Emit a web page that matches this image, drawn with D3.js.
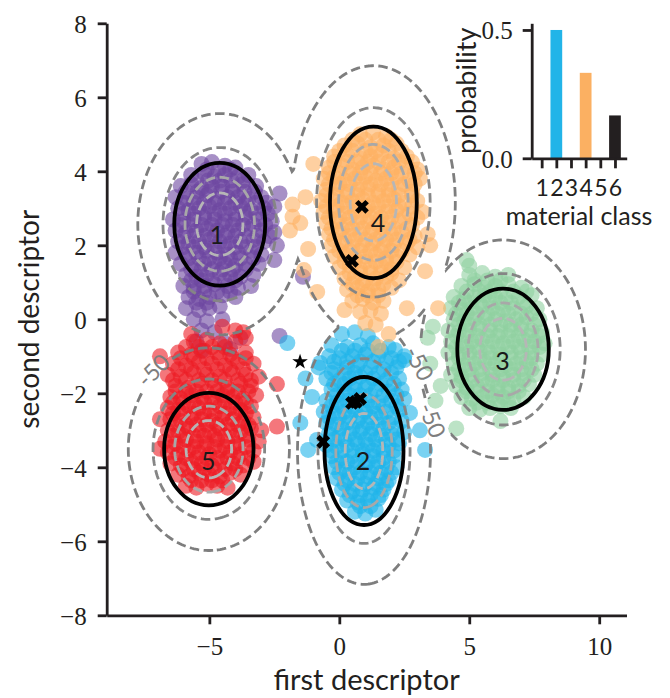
<!DOCTYPE html>
<html><head><meta charset="utf-8">
<script src="https://cdn.jsdelivr.net/npm/d3@7"></script>
<style>body{margin:0;background:#fff}</style>
</head><body><svg id="c" width="670" height="698"></svg>
<script>
// ---------------- data ----------------
const classIds = [1, 2, 3, 4, 5];
const classColors = ["#6c46a0", "#1fb4e9", "#8fd0a0", "#fdb062", "#ec1c24"];
const centers = [[-4.6, 2.57], [0.95, -3.56], [6.3, -0.81], [1.31, 3.16], [-5.02, -3.51]];
const radii = [[1.75, 1.66], [1.52, 2.0], [1.76, 1.64], [1.67, 2.05], [1.72, 1.52]];
const contourRadii = [[1.75, 1.66], [1.42, 2.0], [1.76, 1.64], [1.75, 2.05], [1.72, 1.52]];
const labelPos = [[-4.72, 2.31], [0.91, -3.8], [6.28, -1.1], [1.49, 2.64], [-5.04, -3.8]];
const contourLevels = [-50, -24, -9, -4];
const contourColors = ["#7e7e7e", "#858585", "#a8a8a8", "#b6b6b6"];
const contourScale = 15.4;
const contourLabelPos = [[-7.17, -1.37], [3.1, -1.18], [3.6, -2.72]];
const contourLabelAngles = [-45, 62, 68];
const contourLabelText = "-50";
const crossPts = [[0.87, 3.04], [0.49, 1.58], [0.64, -2.23], [0.8, -2.15], [0.49, -2.26], [-0.62, -3.31]];
const starPts = [[-1.51, -1.15]];
const xTicks = [-5, 0, 5, 10];
const yTicks = [-8, -6, -4, -2, 0, 2, 4, 6, 8];
const barClasses = [1, 2, 3, 4, 5, 6];
const barProbs = [0, 0.5, 0, 0.333, 0, 0.167];
const barColors = ["#6c46a0", "#22b4e8", "#8fd0a0", "#fbb062", "#ec1c24", "#231f20"];
const barTicks = [0, 0.5];

const pts1 = [[-5.3,4.2],[-4.9,4.25],[-4.4,4.15],[-4.0,4.1],
[-5.7,3.9],[-5.2,3.95],[-4.8,3.85],[-4.4,3.9],[-3.9,3.85],[-3.5,3.9],
[-6.1,3.6],[-5.7,3.65],[-5.3,3.55],[-4.9,3.6],[-4.5,3.6],[-4.1,3.55],[-3.7,3.65],[-3.2,3.6],
[-6.3,3.3],[-5.9,3.25],[-5.5,3.3],[-5.1,3.35],[-4.7,3.25],[-4.3,3.3],[-3.9,3.3],[-3.5,3.25],[-3.0,3.3],
[-6.2,3.0],[-5.8,2.95],[-5.4,3.0],[-5.0,3.05],[-4.6,2.95],[-4.2,3.0],[-3.8,3.05],[-3.4,2.95],[-2.9,3.0],[-2.5,3.05],
[-6.4,2.7],[-6.0,2.65],[-5.6,2.7],[-5.2,2.75],[-4.8,2.7],[-4.4,2.65],[-4.0,2.7],[-3.6,2.75],[-3.1,2.7],[-2.6,2.65],
[-6.3,2.4],[-5.9,2.35],[-5.5,2.4],[-5.1,2.45],[-4.7,2.4],[-4.3,2.35],[-3.9,2.4],[-3.5,2.45],[-3.0,2.4],[-2.5,2.35],
[-6.2,2.1],[-5.8,2.05],[-5.4,2.1],[-5.0,2.15],[-4.6,2.1],[-4.2,2.05],[-3.8,2.1],[-3.3,2.15],[-2.9,2.1],[-2.4,2.0],
[-6.3,1.8],[-5.9,1.75],[-5.5,1.8],[-5.1,1.85],[-4.7,1.8],[-4.3,1.75],[-3.9,1.8],[-3.4,1.85],[-3.0,1.75],
[-6.1,1.5],[-5.6,1.45],[-5.2,1.5],[-4.8,1.55],[-4.4,1.5],[-4.0,1.45],[-3.6,1.5],[-3.1,1.5],
[-5.9,1.2],[-5.5,1.15],[-5.1,1.2],[-4.6,1.25],[-4.2,1.2],[-3.8,1.15],[-3.3,1.2],
[-6.0,0.9],[-5.6,0.85],[-5.2,0.9],[-4.8,0.95],[-4.3,0.9],[-3.9,0.85],[-3.4,0.9],
[-5.8,0.6],[-5.4,0.55],[-5.0,0.6],[-4.5,0.65],[-4.0,0.6],
[-5.9,0.3],[-5.4,0.25],[-5.0,0.3],[-4.6,0.35],
[-5.6,0.0],[-5.1,-0.05],[-4.5,0.0],
[-5.3,-0.3],[-4.8,-0.35],
[-5.5,-0.6],[-4.4,-0.65],[-4.2,-0.8],[-5.3,-0.85],[-3.8,-0.5],[-2.3,-0.45],[-1.4,1.15],[-2.5,1.6],[-2.3,3.4]];
const pts1Core = [[-5.1,4.05],[-4.65,4.05],[-4.2,4.05],
[-5.5,3.75],[-5.05,3.75],[-4.6,3.75],[-4.15,3.75],[-3.7,3.75],
[-5.9,3.45],[-5.45,3.45],[-5.0,3.45],[-4.55,3.45],[-4.1,3.45],[-3.65,3.45],[-3.25,3.45],
[-6.0,3.15],[-5.6,3.15],[-5.2,3.15],[-4.8,3.15],[-4.4,3.15],[-4.0,3.15],[-3.6,3.15],[-3.2,3.15],[-2.8,3.15],
[-6.0,2.85],[-5.6,2.85],[-5.2,2.85],[-4.8,2.85],[-4.4,2.85],[-4.0,2.85],[-3.6,2.85],[-3.2,2.85],[-2.75,2.85],
[-6.1,2.55],[-5.7,2.55],[-5.3,2.55],[-4.9,2.55],[-4.5,2.55],[-4.1,2.55],[-3.7,2.55],[-3.3,2.55],[-2.85,2.55],
[-6.0,2.25],[-5.6,2.25],[-5.2,2.25],[-4.8,2.25],[-4.4,2.25],[-4.0,2.25],[-3.6,2.25],[-3.15,2.25],[-2.7,2.25],
[-6.0,1.95],[-5.6,1.95],[-5.2,1.95],[-4.8,1.95],[-4.4,1.95],[-4.0,1.95],[-3.6,1.95],[-3.2,1.95],
[-5.8,1.65],[-5.4,1.65],[-5.0,1.65],[-4.6,1.65],[-4.2,1.65],[-3.8,1.65],[-3.3,1.65],
[-5.7,1.35],[-5.3,1.35],[-4.9,1.35],[-4.5,1.35],[-4.1,1.35],[-3.6,1.35],
[-5.7,1.05],[-5.3,1.05],[-4.9,1.05],[-4.4,1.05],[-4.0,1.05],
[-5.6,0.75],[-5.2,0.75],[-4.7,0.75],[-4.2,0.75],
[-5.5,0.45],[-5.1,0.45]];

const pts2 = [[0.1,-0.4],[0.6,-0.35],[1.1,-0.45],
[-0.3,-0.7],[0.3,-0.75],[0.8,-0.7],[1.3,-0.65],[1.9,-0.75],
[-0.4,-1.0],[0.0,-1.05],[0.5,-1.0],[1.0,-0.95],[1.5,-1.0],[2.0,-1.05],[2.5,-1.0],
[-0.8,-1.3],[-0.2,-1.35],[0.3,-1.3],[0.7,-1.25],[1.2,-1.3],[1.7,-1.35],[2.2,-1.3],
[-0.5,-1.6],[0.0,-1.65],[0.4,-1.6],[0.8,-1.55],[1.3,-1.6],[1.8,-1.65],[2.3,-1.6],
[-0.3,-1.9],[0.2,-1.95],[0.6,-1.9],[1.0,-1.85],[1.4,-1.9],[1.9,-1.95],[2.4,-1.9],
[-0.5,-2.2],[-0.1,-2.25],[0.3,-2.2],[0.7,-2.15],[1.1,-2.2],[1.5,-2.25],[2.0,-2.2],[2.5,-2.15],
[-0.6,-2.5],[-0.2,-2.55],[0.2,-2.5],[0.6,-2.45],[1.0,-2.5],[1.4,-2.55],[1.8,-2.5],[2.3,-2.45],
[-0.5,-2.8],[-0.1,-2.85],[0.3,-2.8],[0.7,-2.75],[1.1,-2.8],[1.5,-2.85],[1.9,-2.8],[2.4,-2.75],
[-0.4,-3.1],[0.0,-3.15],[0.4,-3.1],[0.8,-3.05],[1.2,-3.1],[1.6,-3.15],[2.0,-3.1],[2.5,-3.05],
[-0.5,-3.4],[-0.1,-3.45],[0.3,-3.4],[0.7,-3.35],[1.1,-3.4],[1.5,-3.45],[1.9,-3.4],[2.3,-3.35],
[-0.3,-3.7],[0.1,-3.75],[0.5,-3.7],[0.9,-3.65],[1.3,-3.7],[1.7,-3.75],[2.1,-3.7],
[-0.2,-4.0],[0.2,-4.05],[0.6,-4.0],[1.0,-3.95],[1.4,-4.0],[1.8,-4.05],[2.2,-4.0],
[-0.1,-4.3],[0.3,-4.35],[0.7,-4.3],[1.1,-4.25],[1.5,-4.3],[1.9,-4.35],
[0.1,-4.6],[0.5,-4.65],[0.9,-4.6],[1.3,-4.55],[1.7,-4.6],
[0.3,-4.9],[0.7,-4.95],[1.1,-4.9],[1.5,-4.85],
[0.6,-5.2],[1.0,-5.25],[1.4,-5.15],
[-2.0,-0.64],[-0.74,-1.18],[-1.05,-2.1],[-1.5,-2.8],[-1.2,-3.53],[-0.86,-3.26],[2.72,-2.53],[3.1,-3.0],[3.3,-3.53],[2.14,-0.83],[2.5,-1.1],[-1.3,-1.6]];
const pts2Core = [[0.1,-0.85],[0.6,-0.85],[1.1,-0.85],[1.6,-0.85],
[-0.2,-1.15],[0.3,-1.15],[0.8,-1.15],[1.3,-1.15],[1.8,-1.15],[2.3,-1.15],
[-0.3,-1.45],[0.2,-1.45],[0.6,-1.45],[1.0,-1.45],[1.5,-1.45],[2.0,-1.45],
[-0.2,-1.75],[0.2,-1.75],[0.6,-1.75],[1.1,-1.75],[1.6,-1.75],[2.1,-1.75],
[-0.1,-2.05],[0.4,-2.05],[0.8,-2.05],[1.2,-2.05],[1.7,-2.05],[2.2,-2.05],
[-0.3,-2.35],[0.1,-2.35],[0.5,-2.35],[0.9,-2.35],[1.3,-2.35],[1.7,-2.35],[2.2,-2.35],
[-0.4,-2.65],[0.0,-2.65],[0.4,-2.65],[0.8,-2.65],[1.2,-2.65],[1.6,-2.65],[2.1,-2.65],
[-0.3,-2.95],[0.1,-2.95],[0.5,-2.95],[0.9,-2.95],[1.3,-2.95],[1.7,-2.95],[2.2,-2.95],
[-0.2,-3.25],[0.2,-3.25],[0.6,-3.25],[1.0,-3.25],[1.4,-3.25],[1.8,-3.25],[2.2,-3.25],
[-0.3,-3.55],[0.1,-3.55],[0.5,-3.55],[0.9,-3.55],[1.3,-3.55],[1.7,-3.55],[2.1,-3.55],
[-0.1,-3.85],[0.3,-3.85],[0.7,-3.85],[1.1,-3.85],[1.5,-3.85],[1.9,-3.85],
[0.0,-4.15],[0.4,-4.15],[0.8,-4.15],[1.2,-4.15],[1.6,-4.15],[2.0,-4.15],
[0.2,-4.45],[0.6,-4.45],[1.0,-4.45],[1.4,-4.45],[1.8,-4.45],
[0.4,-4.75],[0.8,-4.75],[1.2,-4.75],[1.6,-4.75],
[0.8,-5.05],[1.2,-5.05]];

const pts3 = [[5.0,1.2],[5.5,1.25],[6.0,1.15],[6.5,1.2],
[4.7,0.9],[5.2,0.95],[5.6,0.85],[6.0,0.9],[6.5,0.95],[7.0,0.85],
[4.4,0.6],[4.8,0.55],[5.2,0.6],[5.6,0.65],[6.0,0.6],[6.4,0.55],[6.9,0.6],[7.4,0.65],
[4.3,0.3],[4.7,0.25],[5.1,0.3],[5.5,0.35],[5.9,0.3],[6.3,0.25],[6.7,0.3],[7.2,0.35],[7.6,0.3],
[4.4,0.0],[4.8,-0.05],[5.2,0.0],[5.6,0.05],[6.0,0.0],[6.4,-0.05],[6.8,0.0],[7.2,0.05],[7.7,0.0],
[4.2,-0.3],[4.6,-0.35],[5.0,-0.3],[5.4,-0.25],[5.8,-0.3],[6.2,-0.35],[6.6,-0.3],[7.0,-0.25],[7.4,-0.3],[7.8,-0.35],
[4.3,-0.6],[4.7,-0.65],[5.1,-0.6],[5.5,-0.55],[5.9,-0.6],[6.3,-0.65],[6.7,-0.6],[7.1,-0.55],[7.5,-0.6],[7.9,-0.65],
[4.2,-0.9],[4.6,-0.95],[5.0,-0.9],[5.4,-0.85],[5.8,-0.9],[6.2,-0.95],[6.6,-0.9],[7.0,-0.85],[7.4,-0.9],[7.8,-0.95],
[4.4,-1.2],[4.8,-1.25],[5.2,-1.2],[5.6,-1.15],[6.0,-1.2],[6.4,-1.25],[6.8,-1.2],[7.2,-1.15],[7.6,-1.2],
[4.3,-1.5],[4.7,-1.55],[5.1,-1.5],[5.5,-1.45],[5.9,-1.5],[6.3,-1.55],[6.7,-1.5],[7.1,-1.45],[7.5,-1.5],
[4.5,-1.8],[4.9,-1.85],[5.3,-1.8],[5.7,-1.75],[6.1,-1.8],[6.5,-1.85],[6.9,-1.8],[7.3,-1.75],
[4.7,-2.1],[5.1,-2.15],[5.5,-2.1],[5.9,-2.05],[6.3,-2.1],[6.7,-2.15],[7.1,-2.1],
[5.0,-2.4],[5.4,-2.45],[5.8,-2.4],[6.2,-2.35],[6.6,-2.4],
[3.4,-0.5],[3.5,-1.2],[3.9,-1.8],[4.5,-2.95],[6.2,-2.75],[5.0,1.45],[4.9,1.6],[3.6,-0.2],[3.7,-2.2]];
const pts3Core = [[5.2,1.05],[5.7,1.05],[6.2,1.05],
[4.9,0.75],[5.4,0.75],[5.8,0.75],[6.2,0.75],[6.7,0.75],[7.2,0.75],
[4.6,0.45],[5.0,0.45],[5.4,0.45],[5.8,0.45],[6.2,0.45],[6.6,0.45],[7.1,0.45],
[4.5,0.15],[4.9,0.15],[5.3,0.15],[5.7,0.15],[6.1,0.15],[6.5,0.15],[7.0,0.15],[7.4,0.15],
[4.6,-0.15],[5.0,-0.15],[5.4,-0.15],[5.8,-0.15],[6.2,-0.15],[6.6,-0.15],[7.0,-0.15],[7.5,-0.15],
[4.5,-0.45],[4.9,-0.45],[5.3,-0.45],[5.7,-0.45],[6.1,-0.45],[6.5,-0.45],[6.9,-0.45],[7.3,-0.45],[7.7,-0.45],
[4.5,-0.75],[4.9,-0.75],[5.3,-0.75],[5.7,-0.75],[6.1,-0.75],[6.5,-0.75],[6.9,-0.75],[7.3,-0.75],[7.7,-0.75],
[4.6,-1.05],[5.0,-1.05],[5.4,-1.05],[5.8,-1.05],[6.2,-1.05],[6.6,-1.05],[7.0,-1.05],[7.4,-1.05],
[4.6,-1.35],[5.0,-1.35],[5.4,-1.35],[5.8,-1.35],[6.2,-1.35],[6.6,-1.35],[7.0,-1.35],[7.4,-1.35],
[4.7,-1.65],[5.1,-1.65],[5.5,-1.65],[5.9,-1.65],[6.3,-1.65],[6.7,-1.65],[7.1,-1.65],
[4.9,-1.95],[5.3,-1.95],[5.7,-1.95],[6.1,-1.95],[6.5,-1.95],[6.9,-1.95],
[5.3,-2.25],[5.7,-2.25],[6.1,-2.25],[6.5,-2.25]];

const pts4 = [[0.8,5.0],[1.3,5.05],[1.8,4.95],
[0.2,4.7],[0.7,4.75],[1.2,4.65],[1.7,4.7],[2.2,4.75],
[-0.2,4.4],[0.3,4.45],[0.8,4.35],[1.2,4.4],[1.6,4.45],[2.1,4.35],[2.6,4.4],
[-0.4,4.1],[0.1,4.15],[0.5,4.05],[0.9,4.1],[1.3,4.15],[1.7,4.05],[2.1,4.1],[2.6,4.15],[3.0,4.05],
[-0.6,3.8],[-0.2,3.85],[0.2,3.75],[0.6,3.8],[1.0,3.85],[1.4,3.75],[1.8,3.8],[2.2,3.85],[2.7,3.75],[3.1,3.8],
[-0.5,3.5],[-0.1,3.55],[0.3,3.45],[0.7,3.5],[1.1,3.55],[1.5,3.45],[1.9,3.5],[2.3,3.55],[2.8,3.45],
[-0.7,3.2],[-0.3,3.25],[0.1,3.15],[0.5,3.2],[0.9,3.25],[1.3,3.15],[1.7,3.2],[2.1,3.25],[2.5,3.15],[3.0,3.2],
[-0.6,2.9],[-0.2,2.95],[0.2,2.85],[0.6,2.9],[1.0,2.95],[1.4,2.85],[1.8,2.9],[2.2,2.95],[2.7,2.85],[3.2,2.9],
[-0.5,2.6],[-0.1,2.65],[0.3,2.55],[0.7,2.6],[1.1,2.65],[1.5,2.55],[1.9,2.6],[2.3,2.65],[2.8,2.55],
[-0.4,2.3],[0.0,2.35],[0.4,2.25],[0.8,2.3],[1.2,2.35],[1.6,2.25],[2.0,2.3],[2.4,2.35],[2.9,2.25],[3.4,2.3],
[-0.3,2.0],[0.1,2.05],[0.5,1.95],[0.9,2.0],[1.3,2.05],[1.7,1.95],[2.1,2.0],[2.6,2.05],[3.0,1.95],
[-0.2,1.7],[0.2,1.75],[0.6,1.65],[1.0,1.7],[1.4,1.75],[1.8,1.65],[2.2,1.7],[2.7,1.75],
[0.0,1.4],[0.4,1.45],[0.8,1.35],[1.2,1.4],[1.6,1.45],[2.0,1.35],[2.5,1.4],
[0.2,1.1],[0.6,1.15],[1.0,1.05],[1.4,1.1],[1.8,1.15],[2.3,1.05],
[0.3,0.8],[0.7,0.85],[1.1,0.75],[1.5,0.8],[2.0,0.85],
[0.5,0.5],[0.9,0.55],[1.3,0.45],[1.7,0.5],
[0.8,0.2],[1.2,0.25],[1.6,0.15],
[1.0,-0.1],[1.4,-0.15],
[-1.0,4.2],[-1.8,3.1],[-1.5,2.6],[-1.3,3.3],[-1.8,2.77],[-1.9,2.4],[-1.2,1.9],[-1.36,1.33],[-0.85,0.74],[0.2,0.25],[1.5,-0.75],[3.8,0.3],[3.5,2.0],[3.3,1.3],[2.6,0.3],[1.9,-0.4]];
const pts4Core = [[0.5,4.85],[1.0,4.85],[1.5,4.85],[2.0,4.85],
[0.0,4.55],[0.5,4.55],[1.0,4.55],[1.4,4.55],[1.9,4.55],[2.4,4.55],
[-0.2,4.25],[0.3,4.25],[0.7,4.25],[1.1,4.25],[1.5,4.25],[1.9,4.25],[2.3,4.25],[2.8,4.25],
[-0.4,3.95],[0.0,3.95],[0.4,3.95],[0.8,3.95],[1.2,3.95],[1.6,3.95],[2.0,3.95],[2.4,3.95],[2.9,3.95],
[-0.4,3.65],[0.0,3.65],[0.4,3.65],[0.8,3.65],[1.2,3.65],[1.6,3.65],[2.0,3.65],[2.5,3.65],[2.9,3.65],
[-0.5,3.35],[-0.1,3.35],[0.3,3.35],[0.7,3.35],[1.1,3.35],[1.5,3.35],[1.9,3.35],[2.3,3.35],[2.8,3.35],
[-0.5,3.05],[-0.1,3.05],[0.3,3.05],[0.7,3.05],[1.1,3.05],[1.5,3.05],[1.9,3.05],[2.3,3.05],[2.8,3.05],
[-0.4,2.75],[0.0,2.75],[0.4,2.75],[0.8,2.75],[1.2,2.75],[1.6,2.75],[2.0,2.75],[2.5,2.75],[3.0,2.75],
[-0.3,2.45],[0.1,2.45],[0.5,2.45],[0.9,2.45],[1.3,2.45],[1.7,2.45],[2.1,2.45],[2.6,2.45],
[-0.2,2.15],[0.2,2.15],[0.6,2.15],[1.0,2.15],[1.4,2.15],[1.8,2.15],[2.2,2.15],[2.7,2.15],
[0.0,1.85],[0.4,1.85],[0.8,1.85],[1.2,1.85],[1.6,1.85],[2.0,1.85],[2.4,1.85],
[0.2,1.55],[0.6,1.55],[1.0,1.55],[1.4,1.55],[1.8,1.55],[2.2,1.55],
[0.4,1.25],[0.8,1.25],[1.2,1.25],[1.6,1.25],[2.0,1.25],
[0.5,0.95],[0.9,0.95],[1.3,0.95],[1.7,0.95],
[0.7,0.65],[1.1,0.65],[1.5,0.65]];

const pts5 = [[-5.6,-0.6],[-5.1,-0.55],[-4.6,-0.65],[-4.0,-0.6],
[-6.2,-0.9],[-5.7,-0.95],[-5.2,-0.85],[-4.7,-0.9],[-4.2,-0.95],[-3.6,-0.9],
[-6.4,-1.2],[-5.9,-1.25],[-5.4,-1.15],[-4.9,-1.2],[-4.4,-1.25],[-3.9,-1.15],[-3.3,-1.2],
[-6.6,-1.5],[-6.1,-1.55],[-5.6,-1.45],[-5.1,-1.5],[-4.6,-1.55],[-4.1,-1.45],[-3.6,-1.5],[-3.1,-1.55],
[-6.3,-1.8],[-5.8,-1.85],[-5.3,-1.75],[-4.8,-1.8],[-4.3,-1.85],[-3.8,-1.75],[-3.4,-1.8],
[-6.5,-2.1],[-6.1,-2.15],[-5.7,-2.05],[-5.3,-2.1],[-4.9,-2.15],[-4.5,-2.05],[-4.1,-2.1],[-3.7,-2.15],[-3.2,-2.05],
[-6.6,-2.4],[-6.2,-2.45],[-5.8,-2.35],[-5.4,-2.4],[-5.0,-2.45],[-4.6,-2.35],[-4.2,-2.4],[-3.8,-2.45],[-3.4,-2.35],
[-6.5,-2.7],[-6.1,-2.75],[-5.7,-2.65],[-5.3,-2.7],[-4.9,-2.75],[-4.5,-2.65],[-4.1,-2.7],[-3.7,-2.75],[-3.3,-2.65],
[-6.6,-3.0],[-6.2,-3.05],[-5.8,-2.95],[-5.4,-3.0],[-5.0,-3.05],[-4.6,-2.95],[-4.2,-3.0],[-3.8,-3.05],[-3.4,-2.95],
[-6.7,-3.3],[-6.3,-3.35],[-5.9,-3.25],[-5.5,-3.3],[-5.1,-3.35],[-4.7,-3.25],[-4.3,-3.3],[-3.9,-3.35],[-3.5,-3.25],[-3.1,-3.3],
[-6.6,-3.6],[-6.2,-3.65],[-5.8,-3.55],[-5.4,-3.6],[-5.0,-3.65],[-4.6,-3.55],[-4.2,-3.6],[-3.8,-3.65],[-3.3,-3.55],
[-6.5,-3.9],[-6.1,-3.95],[-5.7,-3.85],[-5.3,-3.9],[-4.9,-3.95],[-4.5,-3.85],[-4.1,-3.9],[-3.7,-3.95],[-3.3,-3.85],
[-6.2,-4.2],[-5.8,-4.25],[-5.4,-4.15],[-5.0,-4.2],[-4.6,-4.25],[-4.2,-4.15],[-3.8,-4.2],
[-5.9,-4.5],[-5.5,-4.55],[-5.1,-4.45],[-4.7,-4.5],[-4.3,-4.55],
[-2.4,-1.75],[-2.4,-2.9],[-3.0,-3.0],[-6.9,-1.0],[-4.0,-0.3],[-3.6,-0.5],[-4.5,-0.2],[-6.9,-3.5],[-6.9,-2.7],[-5.7,-0.4],[-3.7,-0.35]];
const pts5Core = [[-5.9,-0.75],[-5.4,-0.75],[-4.9,-0.75],[-4.4,-0.75],
[-6.1,-1.05],[-5.6,-1.05],[-5.1,-1.05],[-4.6,-1.05],[-4.1,-1.05],[-3.6,-1.05],
[-6.2,-1.35],[-5.7,-1.35],[-5.2,-1.35],[-4.7,-1.35],[-4.2,-1.35],[-3.7,-1.35],
[-6.4,-1.65],[-5.9,-1.65],[-5.4,-1.65],[-4.9,-1.65],[-4.4,-1.65],[-3.9,-1.65],[-3.4,-1.65],
[-6.3,-1.95],[-5.9,-1.95],[-5.5,-1.95],[-5.1,-1.95],[-4.7,-1.95],[-4.3,-1.95],[-3.9,-1.95],[-3.5,-1.95],
[-6.4,-2.25],[-6.0,-2.25],[-5.6,-2.25],[-5.2,-2.25],[-4.8,-2.25],[-4.4,-2.25],[-4.0,-2.25],[-3.6,-2.25],
[-6.4,-2.55],[-6.0,-2.55],[-5.6,-2.55],[-5.2,-2.55],[-4.8,-2.55],[-4.4,-2.55],[-4.0,-2.55],[-3.6,-2.55],
[-6.3,-2.85],[-5.9,-2.85],[-5.5,-2.85],[-5.1,-2.85],[-4.7,-2.85],[-4.3,-2.85],[-3.9,-2.85],[-3.5,-2.85],
[-6.4,-3.15],[-6.0,-3.15],[-5.6,-3.15],[-5.2,-3.15],[-4.8,-3.15],[-4.4,-3.15],[-4.0,-3.15],[-3.6,-3.15],
[-6.4,-3.45],[-6.0,-3.45],[-5.6,-3.45],[-5.2,-3.45],[-4.8,-3.45],[-4.4,-3.45],[-4.0,-3.45],[-3.6,-3.45],
[-6.3,-3.75],[-5.9,-3.75],[-5.5,-3.75],[-5.1,-3.75],[-4.7,-3.75],[-4.3,-3.75],[-3.9,-3.75],[-3.5,-3.75],
[-6.0,-4.05],[-5.6,-4.05],[-5.2,-4.05],[-4.8,-4.05],[-4.4,-4.05],[-4.0,-4.05],
[-5.7,-4.35],[-5.3,-4.35],[-4.9,-4.35],[-4.5,-4.35]];

const pointSets = [pts1.concat(pts1Core), pts2.concat(pts2Core), pts3.concat(pts3Core), pts4.concat(pts4Core), pts5.concat(pts5Core)];

// ---------------- drawing ----------------
const W = 670, H = 698;
const svg = d3.select("#c");
const serif = "'Liberation Serif', 'DejaVu Serif', serif";
const sans = "Lato, 'Open Sans', sans-serif";
const ink = "#231f20";

const xS = d3.scaleLinear().domain([-8.95, 11.05]).range([106.7, 626.5]);
const yS = d3.scaleLinear().domain([-8, 8]).range([615.3, 23.3]);
const fmt = d => d < 0 ? "\u2212" + Math.abs(d) : String(d);

// points
pointSets.forEach((pts, k) => {
  svg.append("g").selectAll("circle").data(pts).join("circle")
    .attr("cx", d => xS(d[0])).attr("cy", d => yS(d[1])).attr("r", 8)
    .attr("fill", classColors[k]).attr("fill-opacity", 0.6);
});

// contour label mask
const defs = svg.append("defs");
const mask = defs.append("mask").attr("id", "lblmask").attr("maskUnits", "userSpaceOnUse")
  .attr("x", 0).attr("y", 0).attr("width", W).attr("height", H);
mask.append("rect").attr("width", W).attr("height", H).attr("fill", "white");
mask.selectAll("rect.hole").data(contourLabelPos).join("rect").attr("class", "hole")
  .attr("x", -21).attr("y", -11).attr("width", 42).attr("height", 22).attr("fill", "black")
  .attr("transform", (d, i) => `translate(${xS(d[0])},${yS(d[1])}) rotate(${contourLabelAngles[i]})`);

// contour field
const gx0 = 106, gy0 = 22, step = 2;
const nx = Math.ceil((628 - gx0) / step), ny = Math.ceil((617 - gy0) / step);
const grid = new Float64Array(nx * ny);
for (let j = 0; j < ny; j++) for (let i = 0; i < nx; i++) {
  const dx = xS.invert(gx0 + i * step), dy = yS.invert(gy0 + j * step);
  const e = centers.map((c, k) => -contourScale * (((dx - c[0]) / contourRadii[k][0]) ** 2 + ((dy - c[1]) / contourRadii[k][1]) ** 2));
  const m = d3.max(e);
  grid[j * nx + i] = m + Math.log(d3.sum(e, v => Math.exp(v - m)));
}
const contours = d3.contours().size([nx, ny]).thresholds(contourLevels)(grid);
const proj = d3.geoTransform({ point(x, y) { this.stream.point(gx0 + (x - 0.5) * step, gy0 + (y - 0.5) * step); } });
const cpath = d3.geoPath(proj);
svg.append("g").attr("mask", "url(#lblmask)").selectAll("path").data(contours).join("path")
  .attr("d", cpath).attr("fill", "none")
  .attr("stroke", d => contourColors[contourLevels.indexOf(d.value)])
  .attr("stroke-width", 2.8).attr("stroke-dasharray", "9.5,4.5");

svg.append("g").selectAll("text").data(contourLabelPos).join("text")
  .attr("transform", (d, i) => `translate(${xS(d[0])},${yS(d[1])}) rotate(${contourLabelAngles[i]})`)
  .attr("text-anchor", "middle").attr("dominant-baseline", "central")
  .attr("font-family", sans).attr("font-size", 23).attr("fill", "#7e7e7e")
  .text(contourLabelText);

// black ellipses
svg.append("g").selectAll("ellipse").data(centers).join("ellipse")
  .attr("cx", d => xS(d[0])).attr("cy", d => yS(d[1]))
  .attr("rx", (d, k) => xS(d[0] + radii[k][0]) - xS(d[0]))
  .attr("ry", (d, k) => yS(d[1]) - yS(d[1] + radii[k][1]))
  .attr("fill", "none").attr("stroke", "#000").attr("stroke-width", 3.8);

// cluster labels
svg.append("g").selectAll("text").data(labelPos).join("text")
  .attr("x", d => xS(d[0])).attr("y", d => yS(d[1]))
  .attr("text-anchor", "middle").attr("dominant-baseline", "central")
  .attr("font-family", sans).attr("font-size", 25).attr("fill", "#1a1a1a")
  .text((d, i) => classIds[i]);

// markers
const xSym = d3.symbol().type(d3.symbolCross).size(120);
svg.append("g").selectAll("path").data(crossPts).join("path")
  .attr("d", xSym).attr("fill", "#000")
  .attr("transform", d => `translate(${xS(d[0])},${yS(d[1])}) rotate(45)`);
const sSym = d3.symbol().type(d3.symbolStar).size(75);
svg.append("g").selectAll("path").data(starPts).join("path")
  .attr("d", sSym).attr("fill", "#000")
  .attr("transform", d => `translate(${xS(d[0])},${yS(d[1])})`);

// axes
function styleAxis(g, font, size) {
  g.select(".domain").attr("stroke", ink).attr("stroke-width", 2.8);
  g.selectAll(".tick line").attr("stroke", ink).attr("stroke-width", 2.8);
  g.selectAll(".tick text").attr("font-family", font).attr("font-size", size).attr("fill", ink);
}
const gxA = svg.append("g").attr("transform", `translate(0,${yS(-8)})`)
  .call(d3.axisBottom(xS).tickValues(xTicks).tickFormat(fmt).tickSize(9).tickSizeOuter(0).tickPadding(13));
styleAxis(gxA, serif, 25);
const gyA = svg.append("g").attr("transform", `translate(${xS(-8.95)},0)`)
  .call(d3.axisLeft(yS).tickValues(yTicks).tickFormat(fmt).tickSize(9).tickSizeOuter(0).tickPadding(11));
styleAxis(gyA, serif, 25);
gyA.selectAll(".tick text").attr("dy", "0.36em");

svg.append("text").attr("x", (xS.range()[0] + xS.range()[1]) / 2).attr("y", 690)
  .attr("text-anchor", "middle").attr("font-family", sans).attr("font-size", 29).attr("fill", ink)
  .text("first descriptor");
svg.append("text").attr("transform", `translate(39,${(yS.range()[0] + yS.range()[1]) / 2}) rotate(-90)`)
  .attr("text-anchor", "middle").attr("font-family", sans).attr("font-size", 28).attr("fill", ink)
  .text("second descriptor");

// inset bar chart
const xi = d3.scaleLinear().domain([0.32, 6.8]).range([531.7, 626.7]);
const yi = d3.scaleLinear().domain([0, 0.526]).range([158.3, 23.3]);
svg.append("g").selectAll("rect").data(barProbs).join("rect")
  .attr("x", (d, i) => xi(barClasses[i] - 0.4)).attr("width", (d, i) => xi(barClasses[i] + 0.4) - xi(barClasses[i] - 0.4))
  .attr("y", d => yi(d)).attr("height", d => yi(0) - yi(d))
  .attr("fill", (d, i) => barColors[i]);
const gxi = svg.append("g").attr("transform", `translate(0,${yi(0)})`)
  .call(d3.axisBottom(xi).tickValues(barClasses).tickFormat(d3.format("d")).tickSize(10).tickSizeOuter(0).tickPadding(11));
styleAxis(gxi, sans, 23);
const gyi = svg.append("g").attr("transform", `translate(${xi(0.32)},0)`)
  .call(d3.axisLeft(yi).tickValues(barTicks).tickFormat(d3.format(".1f")).tickSize(9).tickSizeOuter(0).tickPadding(10));
styleAxis(gyi, serif, 25);
gyi.selectAll(".tick text").attr("dy", "0.36em");
svg.append("text").attr("x", 579).attr("y", 225).attr("text-anchor", "middle")
  .attr("font-family", sans).attr("font-size", 25).attr("fill", ink).text("material class");
svg.append("text").attr("transform", `translate(476,${(yi.range()[0] + yi.range()[1]) / 2}) rotate(-90)`)
  .attr("text-anchor", "middle").attr("font-family", sans).attr("font-size", 27).attr("fill", ink)
  .text("probability");
</script></body></html>
